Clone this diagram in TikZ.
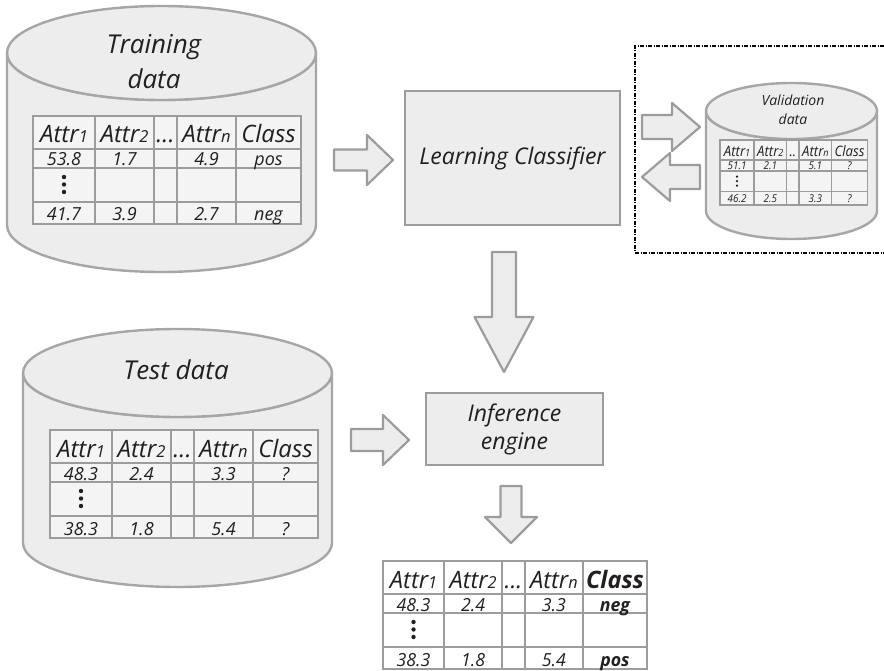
\documentclass[tikz,border=0pt]{standalone}
\usepackage{fontspec}
\setmainfont{Open Sans}
\usetikzlibrary{positioning}

\definecolor{ink}{HTML}{231F20}
\definecolor{shade}{HTML}{EDEDED}
\definecolor{rim}{HTML}{A6A6A6}
\definecolor{gridcol}{HTML}{9C9C9C}
\definecolor{cellfill}{HTML}{F4F4F4}

\newcommand{\titlefont}{\fontsize{26}{35}\selectfont\itshape}
\newcommand{\boxfont}{\fontsize{23}{28}\selectfont\itshape}
\newcommand{\hdfont}{\fontsize{24}{24}\selectfont\itshape}
\newcommand{\numfont}{\fontsize{18}{18}\selectfont\itshape}
\newcommand{\attrsub}[1]{{\fontsize{16.5}{16.5}\selectfont #1}}

% cylinder: #1 cx, #2 rx, #3 top cy, #4 bottom cy, #5 ry
\newcommand{\dbcyl}[5]{%
  \filldraw[cyl] (#1-#2,#3) -- (#1-#2,#4)
    arc[start angle=180,end angle=0,x radius=#2,y radius=#5] -- (#1+#2,#3)
    arc[start angle=0,end angle=180,x radius=#2,y radius=#5] -- cycle;
  \filldraw[cyl] (#1,#3) ellipse[x radius=#2,y radius=#5];
}

% fat arrow: #1 tail, #2 rotation, #3 length, #4 head length, #5 shaft half, #6 head half
\newcommand{\fatarrow}[6]{%
  \draw[blockarrow,shift={#1},rotate=#2] (0,-#5) -- ({#3-#4},-#5) -- ({#3-#4},-#6)
    -- (#3,0) -- ({#3-#4},#6) -- ({#3-#4},#5) -- (0,#5) -- cycle;
}

% data table, top-left corner at the scope origin
% #1 header gap text, #2 first row, #3 last row (a/b/n/class)
\newcommand{\datatable}[3]{%
  \filldraw[grid,fill=cellfill] (0,0) rectangle (268,108);
  \foreach \gx in {62,121,144,203} \draw[grid] (\gx,0) -- (\gx,108);
  \foreach \gy in {33,52,86} \draw[grid] (0,\gy) -- (268,\gy);
  \node[hd] (h1) at (31,27) {Attr\attrsub{1}};
  \node[hd] (h2) at (91.5,27) {Attr\attrsub{2}};
  \node[hd] (hgap) at (132.5,27) {#1};
  \node[hd] (hn) at (173.5,27) {Attr\attrsub{n}};
  \node[hd,classhd] (hc) at (235.5,27) {Class};
  \foreach \va/\vb/\vn/\vc/\vy [count=\r] in {#2/50,#3/105} {
    \node[num] (r\r a) at (31,\vy) {\va};
    \node[num] (r\r b) at (91.5,\vy) {\vb};
    \node[num] (r\r n) at (173.5,\vy) {\vn};
    \node[num,classnum] (r\r c) at (235.5,\vy) {\vc};
  }
  \foreach \dy in {61,68.5,76} \fill[ink] (31,\dy) circle (2.2pt);
}

\begin{document}
\begin{tikzpicture}[x=1pt,y=-1pt,
  cyl/.style={draw=rim,fill=shade,line width=2.4pt},
  box/.style={draw=gridcol,fill=shade,line width=2.6pt,text=ink,font=\boxfont,align=center,inner sep=0pt},
  blockarrow/.style={draw=gridcol,fill=shade,line width=2.2pt,line join=round},
  grid/.style={draw=gridcol,line width=2.6pt},
  hd/.style={anchor=base,inner sep=0pt,text=ink,font=\hdfont,transform shape},
  num/.style={anchor=base,inner sep=0pt,text=ink,font=\numfont,transform shape},
  classhd/.style={},
  classnum/.style={},
  title/.style={text=ink,font=\titlefont,align=center,inner sep=0pt},
  frame/.style={draw=black,line width=1.1pt,dash pattern=on 4pt off 1.5pt on 1pt off 1.5pt}]

\useasboundingbox (0,0) rectangle (884,671);

% --- validation frame (open to the right) ---
\draw[frame] (884,46) -- (635,46) -- (635,253) -- (884,253);

% --- training data ---
\dbcyl{161.5}{154.5}{53}{225}{47}
\node[title] (traintitle) at (154,62) {Training\\data};
\begin{scope}[shift={(33,116)},name prefix=train-]
  \datatable{...}{53.8/1.7/4.9/pos}{41.7/3.9/2.7/neg}
\end{scope}

% --- test data ---
\dbcyl{177.5}{154.5}{373}{543}{44}
\node[title] (testtitle) at (176,370) {Test data};
\begin{scope}[shift={(50,430)},name prefix=test-]
  \datatable{...}{48.3/2.4/3.3/?}{38.3/1.8/5.4/?}
\end{scope}

% --- validation data ---
\dbcyl{791.5}{85.5}{111}{211}{28}
\node[title,font=\fontsize{14}{19}\selectfont\itshape] (valtitle) at (793,110) {Validation\\data};
\begin{scope}[shift={(720,140)},xscale=.55,yscale=.6,name prefix=val-,grid/.append style={line width=1.5pt}]
  \datatable{..}{51.1/2.1/5.1/?}{46.2/2.5/3.3/?}
\end{scope}

% --- classifier and inference boxes ---
\node[box,minimum width=215pt,minimum height=134pt] (lc) at (512.5,158) {Learning Classifier};
\node[box,minimum width=177pt,minimum height=72pt] (ie) at (514.5,429) {Inference\\engine};

% --- labelled output ---
\begin{scope}[shift={(383,561)},xscale=.985,name prefix=out-,
  classhd/.style={font=\hdfont\bfseries},classnum/.style={font=\numfont\bfseries}]
  \colorlet{cellfill}{white}
  \datatable{...}{48.3/2.4/3.3/neg}{38.3/1.8/5.4/pos}
\end{scope}

% --- fat arrows ---
\coordinate (train-out) at (334,160);
\coordinate (lc-out) at (642,127);
\coordinate (val-out) at (700,177);
\coordinate (lc-down) at (504,252);
\coordinate (test-out) at (351,440);
\coordinate (ie-down) at (511,486);
\fatarrow{(train-out)}{0}{59}{26}{10.5}{25}
\fatarrow{(lc-out)}{0}{58}{28}{12}{24}
\fatarrow{(val-out)}{180}{58}{28}{12}{24}
\fatarrow{(lc-down)}{-90}{120}{55}{12}{29.5}
\fatarrow{(test-out)}{0}{58}{26}{11}{25}
\fatarrow{(ie-down)}{-90}{57}{26}{10.5}{26}

\end{tikzpicture}
\end{document}
